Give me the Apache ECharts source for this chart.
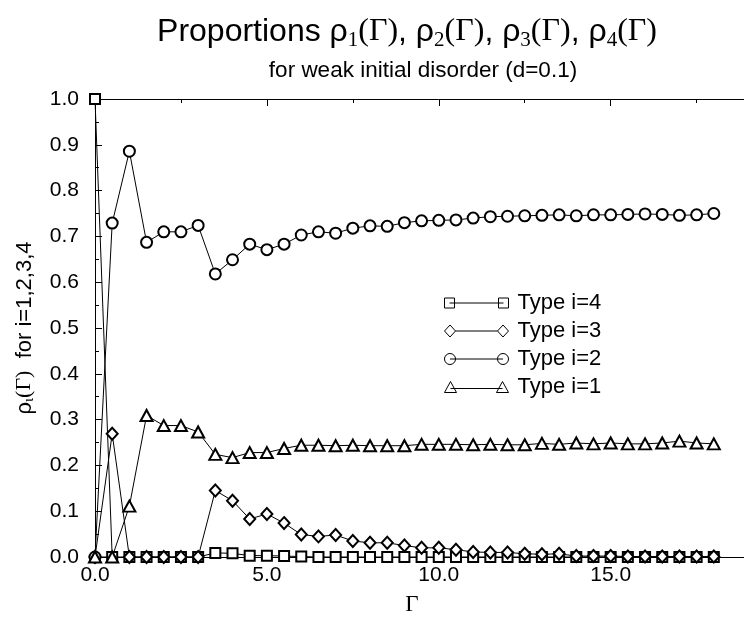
<!DOCTYPE html>
<html>
<head>
<meta charset="utf-8">
<script src="https://cdn.jsdelivr.net/npm/echarts@6/dist/echarts.min.js"></script>
<style>
	html, body { margin: 0; padding: 0; background: #fff; overflow: hidden; }
	/* 原图右侧被裁掉：画布比窗口宽 */
	#chart { width: 806px; height: 621px; }
</style>
</head>
<body>
<div id="chart"></div>
<script>
// 数据
var gamma = [0, 0.5, 1, 1.5, 2, 2.5, 3, 3.5, 4, 4.5, 5, 5.5, 6, 6.5, 7, 7.5, 8, 8.5, 9, 9.5,
	10, 10.5, 11, 11.5, 12, 12.5, 13, 13.5, 14, 14.5, 15, 15.5, 16, 16.5, 17, 17.5, 18];
var type4 = [1.0, 0, 0, 0, 0, 0, 0, 0.009, 0.008, 0.003, 0.003, 0.002, 0.001, 0, 0, 0, 0, 0, 0, 0,
	0, 0, 0, 0, 0, 0, 0, 0, 0, 0, 0, 0, 0, 0, 0, 0, 0];
var type3 = [0, 0.269, 0, 0, 0, 0, 0, 0.145, 0.123, 0.083, 0.094, 0.074, 0.049, 0.045, 0.048, 0.035, 0.031, 0.031, 0.025, 0.020,
	0.020, 0.016, 0.011, 0.010, 0.010, 0.007, 0.006, 0.007, 0.002, 0.002, 0.002, 0.001, 0.001, 0.001, 0.001, 0.001, 0.001];
var type2 = [0, 0.729, 0.886, 0.687, 0.710, 0.710, 0.724, 0.618, 0.649, 0.683, 0.671, 0.683, 0.703, 0.710, 0.707, 0.718, 0.723, 0.722, 0.730, 0.734,
	0.735, 0.736, 0.740, 0.743, 0.744, 0.745, 0.746, 0.747, 0.745, 0.747, 0.747, 0.748, 0.749, 0.748, 0.746, 0.747, 0.750];
var type1 = [0, 0, 0.111, 0.309, 0.287, 0.287, 0.273, 0.224, 0.217, 0.228, 0.228, 0.237, 0.244, 0.244, 0.243, 0.244, 0.243, 0.243, 0.243, 0.246,
	0.246, 0.246, 0.245, 0.246, 0.245, 0.245, 0.248, 0.246, 0.249, 0.247, 0.249, 0.247, 0.247, 0.249, 0.253, 0.249, 0.247];
var seriesNames = ['Type i=4', 'Type i=3', 'Type i=2', 'Type i=1'];

(function () {
	var myChart = echarts.init(document.getElementById('chart'));

	function pairs(ys) {
		var out = [];
		for (var i = 0; i < gamma.length; i++) {
			out.push([gamma[i], ys[i]]);
		}
		return out;
	}

	var sans = 'Liberation Sans, Arial, sans-serif';
	var serif = 'Liberation Serif, Times New Roman, serif';

	// 图例：两端各一个符号
	var icons = [
		'path://M0,0H10V10H0Z M5,5H59 M54,0H64V10H54Z',
		'path://M0,6L5.5,0L11,6L5.5,12Z M11,6H53 M53,6L58.5,0L64,6L58.5,12Z',
		'path://M0,5.5A5.5,5.5,0,1,1,11,5.5A5.5,5.5,0,1,1,0,5.5Z M5.5,5.5H58.5 M53,5.5A5.5,5.5,0,1,1,64,5.5A5.5,5.5,0,1,1,53,5.5Z',
		'path://M0,11L6,0L12,11Z M6,7H58 M52,11L58,0L64,11Z'
	];
	var symbols = ['emptyRect', 'emptyDiamond', 'emptyCircle', 'emptyTriangle'];
	var sizes = [10, [11, 12], 11, [12, 11]];
	var values = [type4, type3, type2, type1];

	var series = [];
	var legendData = [];
	for (var i = 0; i < seriesNames.length; i++) {
		series.push({
			name: seriesNames[i],
			type: 'line',
			data: pairs(values[i]),
			symbol: symbols[i],
			symbolSize: sizes[i],
			showAllSymbol: true,
			clip: false,
			color: '#000',
			lineStyle: { color: '#000', width: 1 },
			itemStyle: { color: '#000', borderWidth: 1 }
		});
		legendData.push({ name: seriesNames[i], icon: icons[i] });
	}

	var tickStyle = {
		show: true,
		inside: true,
		length: 7,
		lineStyle: { color: '#000', width: 1 }
	};
	var minorStyle = {
		show: true,
		splitNumber: 2,
		length: 4,
		lineStyle: { color: '#000', width: 1 }
	};

	var option = {
		animation: false,
		backgroundColor: '#fff',
		title: [
			{
				text: '{a|Proportions }{r|ρ}{s|1}{g|(Γ)}{a|, }{r|ρ}{s|2}{g|(Γ)}{a|, }{r|ρ}{s|3}{g|(Γ)}{a|, }{r|ρ}{s|4}{g|(Γ)}',
				left: 407,
				top: 13,
				padding: 0,
				textAlign: 'center',
				textVerticalAlign: 'top',
				textStyle: {
					fontWeight: 'normal',
					rich: {
						a: { fontFamily: sans, fontSize: 32, fontWeight: 'normal', color: '#000' },
						r: { fontFamily: sans, fontSize: 32, fontWeight: 'normal', color: '#000' },
						s: { fontFamily: serif, fontSize: 21, fontWeight: 'normal', color: '#000', padding: [17, 0, 0, 0] },
						g: { fontFamily: serif, fontSize: 32, fontWeight: 'normal', color: '#000' }
					}
				}
			},
			{
				text: 'for weak initial disorder (d=0.1)',
				left: 423,
				top: 59,
				padding: 0,
				textAlign: 'center',
				textVerticalAlign: 'top',
				textStyle: { fontFamily: sans, fontSize: 22.5, fontWeight: 'normal', color: '#000' }
			}
		],
		legend: {
			orient: 'vertical',
			left: 444,
			top: 289,
			padding: 0,
			itemGap: 0,
			itemWidth: 64,
			itemHeight: 13,
			selectedMode: false,
			data: legendData,
			itemStyle: { color: '#fff', borderColor: '#000', borderWidth: 1 },
			textStyle: { fontFamily: sans, fontSize: 22, color: '#000', lineHeight: 28, padding: [0, 0, 0, 4] }
		},
		grid: {
			left: 95,
			right: 0,
			top: 99,
			bottom: 60
		},
		xAxis: [
			{
				type: 'value',
				min: 0,
				max: 20,
				interval: 5,
				name: 'Γ',
				nameLocation: 'middle',
				nameGap: 36,
				nameTextStyle: { fontFamily: serif, fontSize: 23, color: '#000', padding: [0, 54, 0, 0] },
				axisLine: { lineStyle: { color: '#000', width: 1 } },
				axisTick: tickStyle,
				minorTick: minorStyle,
				splitLine: { show: false },
				axisLabel: {
					margin: 8,
					fontFamily: sans,
					fontSize: 21,
					color: '#000',
					formatter: function (v) { return v.toFixed(1); }
				}
			},
			{
				type: 'value',
				position: 'top',
				min: 0,
				max: 20,
				interval: 5,
				axisLine: { lineStyle: { color: '#000', width: 1 } },
				axisTick: tickStyle,
				minorTick: minorStyle,
				splitLine: { show: false },
				axisLabel: { show: false }
			}
		],
		yAxis: [
			{
				type: 'value',
				min: 0,
				max: 1,
				interval: 0.1,
				name: '{r|ρ}{s|ι}{g|(Γ)}{a|  for i=1,2,3,4}',
				nameLocation: 'middle',
				nameGap: 58,
				nameTextStyle: {
					rich: {
						a: { fontFamily: sans, fontSize: 22, color: '#000' },
						r: { fontFamily: sans, fontSize: 22, color: '#000' },
						s: { fontFamily: serif, fontSize: 15, color: '#000', padding: [10, 0, 0, 0] },
						g: { fontFamily: serif, fontSize: 22, color: '#000' }
					}
				},
				axisLine: { lineStyle: { color: '#000', width: 1 } },
				axisTick: tickStyle,
				minorTick: minorStyle,
				splitLine: { show: false },
				axisLabel: {
					margin: 16,
					fontFamily: sans,
					fontSize: 21,
					color: '#000',
					formatter: function (v) { return v.toFixed(1); }
				}
			}
		],
		series: series
	};

	myChart.setOption(option);
	window.addEventListener('resize', function () {
		myChart.resize();
	});
})();
</script>
</body>
</html>
